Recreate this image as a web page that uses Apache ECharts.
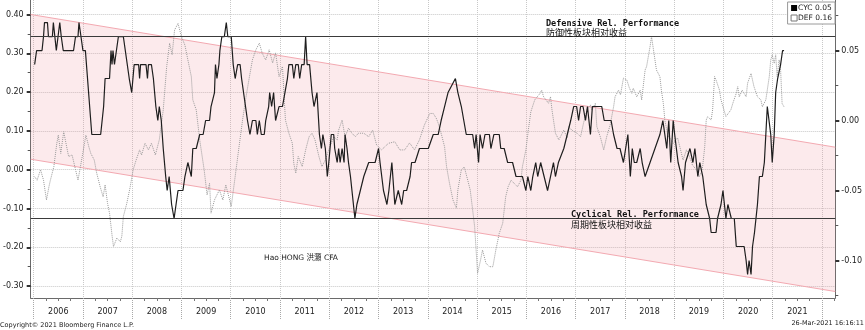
<!DOCTYPE html>
<html>
<head>
<meta charset="utf-8">
<script src="https://cdn.jsdelivr.net/npm/echarts@6/dist/echarts.min.js"></script>
<style>
html, body { margin: 0; padding: 0; background: #fff; }
#chart { width: 865px; height: 330px; }
</style>
</head>
<body>
<div id="chart"></div>
<script>
// Cyclical relative performance (right axis), sampled at decimal-year dates
const cycTime = [
  2006.02,2006.06,2006.17,2006.20,2006.22,2006.28,2006.30,2006.38,2006.40,2006.43,2006.46,2006.50,2006.53,2006.56,2006.60,2006.81,2006.85,2006.90,2006.92,2006.96,
  2007.00,2007.05,2007.18,2007.36,2007.42,2007.45,2007.54,2007.57,2007.59,2007.61,2007.64,2007.68,2007.72,2007.82,2007.86,2007.94,2007.99,
  2008.04,2008.13,2008.15,2008.17,2008.28,2008.31,2008.33,2008.39,2008.43,2008.48,2008.52,2008.55,2008.59,2008.63,2008.68,2008.71,2008.75,2008.80,2008.85,2008.89,2008.93,
  2009.03,2009.07,2009.10,2009.13,2009.17,2009.20,2009.23,2009.30,2009.37,2009.44,2009.49,2009.57,2009.60,2009.67,2009.69,2009.72,2009.76,2009.78,2009.82,2009.87,2009.91,2009.94,
  2010.01,2010.05,2010.09,2010.14,2010.19,2010.22,2010.26,2010.30,2010.34,2010.39,2010.44,2010.51,2010.54,2010.58,2010.62,2010.68,2010.71,2010.77,2010.79,2010.83,2010.87,2010.91,2010.98,
  2011.05,2011.10,2011.15,2011.18,2011.25,2011.28,2011.32,2011.37,2011.40,2011.44,2011.49,2011.52,2011.55,2011.60,2011.65,2011.69,2011.72,2011.75,2011.80,2011.84,2011.87,2011.92,2011.96,2011.99,
  2012.04,2012.09,2012.11,2012.16,2012.19,2012.22,2012.26,2012.30,2012.32,2012.36,2012.39,2012.43,2012.46,2012.52,2012.56,2012.63,2012.70,2012.73,2012.80,2012.86,2012.93,
  2013.00,2013.03,2013.10,2013.17,2013.21,2013.27,2013.33,2013.40,2013.47,2013.51,2013.57,2013.64,2013.67,2013.74,2013.83,2013.94,
  2014.01,2014.11,2014.21,2014.27,2014.34,2014.41,2014.56,2014.61,2014.68,2014.73,2014.78,2014.91,2014.95,2014.98,
  2015.03,2015.06,2015.11,2015.16,2015.25,2015.28,2015.34,2015.45,2015.48,2015.55,2015.62,2015.72,2015.79,2015.92,2015.99,
  2016.03,2016.09,2016.13,2016.19,2016.23,2016.29,2016.36,2016.43,2016.46,2016.49,2016.55,2016.59,2016.65,2016.76,2016.83,2016.90,2016.96,
  2017.02,2017.06,2017.10,2017.15,2017.20,2017.24,2017.30,2017.34,2017.40,2017.53,2017.58,2017.64,2017.72,2017.77,2017.84,2017.90,2017.97,
  2018.00,2018.06,2018.11,2018.15,2018.19,2018.24,2018.31,2018.35,2018.41,2018.51,2018.61,2018.71,2018.77,2018.81,2018.85,2018.89,2018.93,2018.98,
  2019.01,2019.08,2019.15,2019.18,2019.23,2019.32,2019.38,2019.42,2019.48,2019.52,2019.58,2019.65,2019.72,2019.75,2019.85,2019.88,2019.92,2019.95,2019.99,
  2020.02,2020.05,2020.09,2020.16,2020.22,2020.26,2020.42,2020.46,2020.49,2020.52,2020.56,2020.59,2020.63,2020.66,2020.69,2020.73,2020.79,2020.83,2020.86,2020.89,2020.93,2020.96,2020.99,
  2021.03,2021.06,2021.10,2021.13,2021.16,2021.20,2021.23
];
const cycValues = [
  0.04,0.05,0.05,0.06,0.07,0.07,0.06,0.06,0.07,0.06,0.05,0.05,0.07,0.06,0.05,0.05,0.06,0.06,0.07,0.06,
  0.05,0.05,-0.01,-0.01,0.01,0.03,0.03,0.05,0.04,0.05,0.04,0.05,0.06,0.06,0.05,0.03,0.02,
  0.04,0.04,0.03,0.04,0.04,0.03,0.04,0.04,0.03,0.01,0.00,0.01,0.00,-0.02,-0.04,-0.05,-0.04,-0.06,-0.07,-0.06,-0.05,
  -0.05,-0.04,-0.04,-0.03,-0.03,-0.04,-0.02,-0.02,-0.01,-0.01,0.00,0.00,0.01,0.02,0.04,0.03,0.04,0.05,0.06,0.06,0.07,0.06,
  0.06,0.04,0.03,0.04,0.04,0.03,0.03,0.01,0.00,-0.01,0.00,0.00,-0.01,0.00,-0.01,-0.01,0.00,0.01,0.02,0.01,0.02,0.00,0.01,
  0.01,0.02,0.03,0.04,0.04,0.03,0.04,0.04,0.03,0.04,0.04,0.06,0.04,0.04,0.02,0.01,0.01,0.02,-0.01,-0.02,-0.01,-0.02,-0.04,-0.03,
  -0.01,-0.01,-0.02,-0.03,-0.02,-0.03,-0.02,-0.03,-0.01,-0.02,-0.03,-0.04,-0.05,-0.07,-0.06,-0.05,-0.04,-0.04,-0.03,-0.03,-0.03,
  -0.02,-0.03,-0.05,-0.06,-0.05,-0.03,-0.06,-0.05,-0.06,-0.05,-0.05,-0.04,-0.03,-0.03,-0.02,-0.02,
  -0.02,-0.01,-0.01,0.00,0.01,0.02,0.03,0.02,0.01,0.00,-0.01,-0.01,-0.02,-0.01,
  -0.03,-0.01,-0.02,-0.01,-0.01,-0.02,-0.01,-0.01,-0.02,-0.02,-0.03,-0.03,-0.04,-0.04,-0.05,
  -0.04,-0.05,-0.04,-0.03,-0.04,-0.03,-0.04,-0.05,-0.05,-0.04,-0.03,-0.04,-0.03,-0.02,-0.01,0.00,0.01,
  0.01,0.00,0.01,0.01,0.00,0.01,-0.01,0.01,0.01,0.01,0.00,0.00,0.00,-0.01,-0.02,-0.02,-0.03,
  -0.03,-0.01,-0.04,-0.02,-0.03,-0.03,-0.02,-0.03,-0.04,-0.03,-0.02,-0.01,0.00,0.00,-0.02,0.00,-0.03,0.00,
  -0.01,-0.03,-0.04,-0.05,-0.03,-0.02,-0.03,-0.02,-0.04,-0.03,-0.04,-0.06,-0.07,-0.08,-0.08,-0.07,-0.07,-0.06,-0.05,
  -0.06,-0.07,-0.06,-0.07,-0.07,-0.09,-0.09,-0.10,-0.11,-0.10,-0.11,-0.09,-0.08,-0.07,-0.06,-0.04,-0.04,-0.03,-0.01,0.01,0.01,-0.01,-0.03,
  -0.01,0.02,0.03,0.03,0.04,0.05,0.05
];

// Defensive relative performance (left axis)
const defTime = [
  2006.02,2006.07,2006.14,2006.20,2006.26,2006.31,2006.34,2006.41,2006.47,2006.50,2006.55,2006.61,2006.67,2006.71,2006.78,2006.85,2006.90,2006.95,
  2007.02,2007.06,2007.12,2007.16,2007.23,2007.28,2007.35,2007.41,2007.45,2007.50,2007.54,2007.59,2007.62,2007.69,2007.76,2007.79,2007.82,2007.89,2007.96,
  2008.02,2008.08,2008.15,2008.19,2008.26,2008.33,2008.39,2008.47,2008.55,2008.63,2008.70,2008.76,2008.81,2008.86,2008.93,
  2009.00,2009.07,2009.13,2009.20,2009.23,2009.30,2009.37,2009.46,2009.52,2009.57,2009.60,2009.67,2009.77,2009.84,2009.90,
  2010.01,2010.08,2010.16,2010.24,2010.30,2010.38,2010.44,2010.51,2010.58,2010.64,2010.71,2010.78,2010.85,2010.91,2010.98,
  2011.05,2011.11,2011.18,2011.25,2011.28,2011.32,2011.37,2011.45,2011.52,2011.59,2011.65,2011.71,2011.79,2011.85,2011.92,2011.99,
  2012.09,2012.16,2012.19,2012.26,2012.32,2012.39,2012.46,2012.53,2012.59,2012.70,2012.80,2012.88,2012.96,
  2013.06,2013.20,2013.33,2013.43,2013.53,2013.63,2013.73,2013.83,2013.93,
  2014.04,2014.11,2014.17,2014.21,2014.28,2014.34,2014.38,2014.44,2014.51,2014.58,2014.61,2014.68,2014.74,2014.81,2014.86,2014.91,2014.95,2014.98,
  2015.01,2015.07,2015.11,2015.18,2015.25,2015.32,2015.38,2015.45,2015.52,2015.58,2015.63,2015.69,2015.75,2015.82,2015.89,2015.92,2015.99,
  2016.04,2016.09,2016.17,2016.28,2016.31,2016.35,2016.45,2016.49,2016.52,2016.59,2016.66,2016.76,2016.83,2016.86,2016.92,
  2017.03,2017.10,2017.16,2017.23,2017.30,2017.33,2017.40,2017.43,2017.50,2017.57,2017.63,2017.70,2017.77,2017.80,2017.87,2017.91,2017.97,
  2018.04,2018.09,2018.14,2018.17,2018.24,2018.31,2018.34,2018.41,2018.44,2018.51,2018.54,2018.58,2018.64,2018.71,2018.74,2018.78,2018.81,2018.87,2018.98,
  2019.07,2019.18,2019.25,2019.31,2019.37,2019.45,2019.51,2019.57,2019.62,2019.65,2019.68,2019.75,2019.78,2019.82,2019.85,2019.92,2019.95,
  2020.05,2020.15,2020.19,2020.26,2020.29,2020.32,2020.38,2020.46,2020.49,2020.56,2020.62,2020.69,2020.76,2020.79,2020.86,2020.93,2020.96,2020.99,
  2021.03,2021.06,2021.09,2021.13,2021.16,2021.19,2021.23
];
const defValues = [
  -0.018,-0.027,0.000,-0.027,-0.078,-0.044,-0.027,0.008,0.068,0.089,0.042,0.098,0.059,0.034,0.038,0.000,-0.027,0.008,
  0.059,0.089,0.059,0.042,0.025,-0.009,-0.044,-0.070,-0.039,-0.087,-0.112,-0.168,-0.198,-0.176,-0.186,-0.171,-0.121,-0.087,-0.044,
  0.000,0.025,0.051,0.038,0.068,0.051,0.068,0.038,0.077,0.154,0.266,0.326,0.296,0.360,0.377,
  0.343,0.321,0.283,0.240,0.180,0.154,0.077,0.000,-0.065,-0.035,-0.112,-0.078,-0.052,-0.078,-0.039,
  -0.095,-0.027,0.051,0.128,0.180,0.240,0.283,0.309,0.326,0.300,0.283,0.309,0.275,0.301,0.240,
  0.266,0.128,0.094,0.068,0.016,-0.009,0.034,0.008,0.051,0.085,0.094,0.077,0.034,0.008,0.025,0.051,
  0.085,0.077,0.102,0.128,0.085,0.107,0.094,0.085,0.094,0.094,0.085,0.102,0.064,
  0.051,0.068,0.072,0.051,0.051,0.069,0.051,0.077,0.115,
  0.145,0.145,0.133,0.120,0.089,0.059,0.008,-0.035,-0.078,-0.099,-0.052,0.000,0.007,-0.027,-0.052,-0.104,-0.147,-0.207,
  -0.267,-0.233,-0.207,-0.241,-0.250,-0.250,-0.207,-0.164,-0.138,-0.070,-0.044,-0.027,-0.035,-0.044,-0.027,0.008,0.051,
  0.102,0.149,0.180,0.197,0.205,0.188,0.171,0.188,0.154,0.094,0.077,0.102,0.082,0.111,0.102,
  0.094,0.085,0.120,0.154,0.167,0.154,0.171,0.111,0.085,0.051,0.085,0.115,0.162,0.188,0.205,0.193,0.236,
  0.231,0.211,0.197,0.210,0.188,0.205,0.180,0.257,0.266,0.317,0.343,0.309,0.257,0.240,0.205,0.171,0.128,0.089,0.068,
  0.082,0.025,0.051,0.034,0.012,0.000,-0.018,0.000,0.059,0.128,0.137,0.128,0.154,0.240,0.231,0.205,0.180,
  0.137,0.154,0.171,0.197,0.214,0.188,0.205,0.188,0.223,0.248,0.214,0.188,0.180,0.162,0.180,0.240,0.283,0.296,
  0.274,0.296,0.240,0.283,0.257,0.171,0.162
];

// Trend channel (left axis), endpoints at the edges of the plot
const channelTime = [2005.94, 2022.27];
const channelUpper = [0.400, 0.058];
const channelLower = [0.027, -0.314];

// Reference levels on the cyclical axis
const refLevels = [0.06, -0.07];

// Axis ranges and ticks
const xRange = [2005.94, 2022.27];
const leftRange = [-0.3307, 0.4374];
const rightRange = [-0.1268, 0.0861];
const yearTicks = [2006,2007,2008,2009,2010,2011,2012,2013,2014,2015,2016,2017,2018,2019,2020,2021,2022];
const yearLabels = ['2006','2007','2008','2009','2010','2011','2012','2013','2014','2015','2016','2017','2018','2019','2020','2021'];
const leftTicks = [-0.3,-0.2,-0.1,0,0.1,0.2,0.3,0.4];
const rightTicks = [-0.10,-0.05,0.00,0.05];

const quarterTicks = [];
yearTicks.forEach(function (y) {
  [0.25, 0.5, 0.75].forEach(function (q) {
    if (y + q < xRange[1]) quarterTicks.push(y + q);
  });
});
const leftMinorTicks = leftTicks.slice(1).map(function (v) { return +(v - 0.05).toFixed(3); })
  .filter(function (v) { return v >= leftRange[0] && v <= leftRange[1]; });
const rightMinorTicks = [rightTicks[0] - 0.025].concat(rightTicks.map(function (v) { return +(v + 0.025).toFixed(3); }))
  .filter(function (v) { return v >= rightRange[0] && v <= rightRange[1]; });

function pairs(t, v) { return t.map(function (x, i) { return [x, v[i]]; }); }

const labelFont = { fontFamily: 'DejaVu Sans', fontSize: 8, color: '#222' };
const gridLine = { show: true, lineStyle: { color: '#c8c8c8', type: 'dotted', width: 1 } };
const axisColor = '#6a6a6a';
const channelEdge = '#f3a9b1';

const chart = echarts.init(document.getElementById('chart'), null, { renderer: 'canvas' });

const lastCyc = cycValues[cycValues.length - 1];
const lastDef = defValues[defValues.length - 1];

// The channel is one quadrilateral: [t0, low0, high0, t1, low1, high1]
const channelData = [[channelTime[0], channelLower[0], channelUpper[0], channelTime[1], channelLower[1], channelUpper[1]]];

function renderChannel(params, api) {
  const a = api.coord([api.value(0), api.value(2)]);
  const b = api.coord([api.value(3), api.value(5)]);
  const c = api.coord([api.value(3), api.value(4)]);
  const d = api.coord([api.value(0), api.value(1)]);
  return {
    type: 'group',
    children: [
      { type: 'polygon', shape: { points: [a, b, c, d] }, style: { fill: 'rgba(240,150,160,0.2)' } },
      { type: 'line', shape: { x1: a[0], y1: a[1], x2: b[0], y2: b[1] }, style: { stroke: channelEdge, lineWidth: 1 } },
      { type: 'line', shape: { x1: d[0], y1: d[1], x2: c[0], y2: c[1] }, style: { stroke: channelEdge, lineWidth: 1 } }
    ]
  };
}

chart.setOption({
  animation: false,
  backgroundColor: '#ffffff',
  grid: { left: 27, right: 28.5, top: 0, bottom: 32, containLabel: false },
  legend: {
    orient: 'vertical',
    right: 30,
    top: 2,
    itemWidth: 6,
    itemHeight: 6,
    itemGap: 2,
    padding: [2, 3, 2, 3],
    backgroundColor: '#ffffff',
    borderColor: '#9a9a9a',
    borderWidth: 1,
    borderRadius: 0,
    textStyle: { fontFamily: 'DejaVu Sans', fontSize: 7.5, color: '#222', padding: [0, 0, 0, -4] },
    formatter: function (name) {
      return name + ' ' + (name === 'CYC' ? lastCyc : lastDef).toFixed(2);
    },
    data: [
      { name: 'CYC', icon: 'rect', itemStyle: { color: '#000', borderWidth: 0 } },
      { name: 'DEF', icon: 'rect', itemStyle: { color: '#fff', borderColor: '#777', borderWidth: 1 } }
    ]
  },
  xAxis: [
    {
      type: 'value', position: 'bottom', min: xRange[0], max: xRange[1],
      axisLine: { show: true, onZero: false, lineStyle: { color: axisColor, width: 1 } },
      axisTick: { show: true, customValues: yearTicks, length: 22, lineStyle: { color: '#a8a8a8', type: 'dotted' } },
      axisLabel: {
        show: true,
        customValues: yearLabels.map(function (y) { return +y + 0.5; }),
        formatter: function (v) { return yearLabels[Math.round(v - 0.5) - +yearLabels[0]]; },
        margin: 10,
        fontFamily: labelFont.fontFamily, fontSize: labelFont.fontSize, color: labelFont.color
      },
      splitLine: gridLine
    },
    {
      type: 'value', position: 'bottom', min: xRange[0], max: xRange[1],
      axisLine: { show: false, onZero: false },
      axisTick: { show: true, customValues: quarterTicks, length: 3, lineStyle: { color: '#777' } },
      axisLabel: { show: false },
      splitLine: { show: false }
    }
  ],
  yAxis: [
    {
      type: 'value', position: 'left', min: leftRange[0], max: leftRange[1],
      axisLine: { show: true, onZero: false, lineStyle: { color: axisColor, width: 1 } },
      axisTick: { show: true, customValues: leftTicks, length: 4, lineStyle: { color: '#333', width: 2 } },
      axisLabel: {
        show: true, customValues: leftTicks, margin: 7,
        formatter: function (v) { return v.toFixed(2); },
        fontFamily: labelFont.fontFamily, fontSize: labelFont.fontSize, color: labelFont.color
      },
      splitLine: gridLine
    },
    {
      type: 'value', position: 'right', min: rightRange[0], max: rightRange[1],
      axisLine: { show: true, onZero: false, lineStyle: { color: axisColor, width: 1 } },
      axisTick: { show: true, customValues: rightTicks, length: 4, lineStyle: { color: '#333', width: 2 } },
      axisLabel: {
        show: true, customValues: rightTicks, margin: 6,
        formatter: function (v) { return v.toFixed(2); },
        fontFamily: labelFont.fontFamily, fontSize: labelFont.fontSize, color: labelFont.color
      },
      splitLine: { show: false }
    },
    {
      type: 'value', position: 'left', min: leftRange[0], max: leftRange[1],
      axisLine: { show: false, onZero: false },
      axisTick: { show: true, customValues: leftMinorTicks, length: 3, lineStyle: { color: '#555' } },
      axisLabel: { show: false }, splitLine: { show: false }
    },
    {
      type: 'value', position: 'right', min: rightRange[0], max: rightRange[1],
      axisLine: { show: false, onZero: false },
      axisTick: { show: true, customValues: rightMinorTicks, length: 3, lineStyle: { color: '#555' } },
      axisLabel: { show: false }, splitLine: { show: false }
    }
  ],
  series: [
    {
      name: 'channel', type: 'custom', xAxisIndex: 0, yAxisIndex: 0,
      data: channelData,
      encode: { x: [0, 3], y: [1, 2, 4, 5] },
      renderItem: renderChannel,
      silent: true, z: 1
    },
    {
      name: 'DEF', type: 'line', xAxisIndex: 0, yAxisIndex: 0,
      data: pairs(defTime, defValues),
      symbol: 'none', z: 3,
      lineStyle: { color: '#9a9a9a', width: 1, type: 'dotted' }
    },
    {
      name: 'CYC', type: 'line', xAxisIndex: 0, yAxisIndex: 1,
      data: pairs(cycTime, cycValues),
      symbol: 'none', z: 4,
      lineStyle: { color: '#1e1e1e', width: 1.2 },
      markLine: {
        silent: true, symbol: 'none', label: { show: false },
        lineStyle: { color: '#3a3a3a', width: 1, type: 'solid' },
        data: refLevels.map(function (v) { return { yAxis: v }; })
      }
    }
  ],
  graphic: [
    { type: 'text', x: 546, y: 24, z: 10, style: { text: 'Defensive Rel. Performance', font: 'bold 8.5px "DejaVu Sans Mono"', fill: '#111', verticalAlign: 'middle' } },
    { type: 'text', x: 546, y: 33, z: 10, style: { text: '防御性板块相对收益', font: '9px "Noto Sans CJK SC"', fill: '#111', verticalAlign: 'middle' } },
    { type: 'text', x: 571, y: 215, z: 10, style: { text: 'Cyclical Rel. Performance', font: 'bold 8.5px "DejaVu Sans Mono"', fill: '#111', verticalAlign: 'middle' } },
    { type: 'text', x: 571, y: 225, z: 10, style: { text: '周期性板块相对收益', font: '9px "Noto Sans CJK SC"', fill: '#111', verticalAlign: 'middle' } },
    { type: 'text', x: 264, y: 258, z: 10, style: { text: 'Hao HONG 洪灝 CFA', font: '7.5px "DejaVu Sans", "Noto Sans CJK SC"', fill: '#222', verticalAlign: 'middle' } },
    { type: 'text', x: 0, y: 325, z: 10, style: { text: 'Copyright© 2021 Bloomberg Finance L.P.', font: '6.5px "DejaVu Sans"', fill: '#222', verticalAlign: 'middle' } },
    { type: 'text', x: 864, y: 323, z: 10, style: { text: '26-Mar-2021 16:16:11', font: '6.5px "DejaVu Sans"', fill: '#222', align: 'right', verticalAlign: 'middle' } }
  ]
});
</script>
</body>
</html>
